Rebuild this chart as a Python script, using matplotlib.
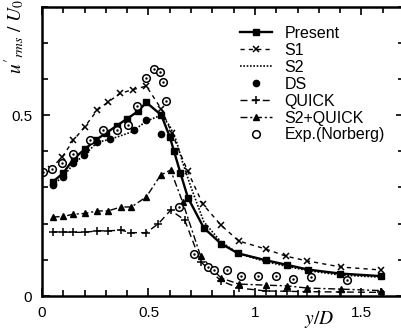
import matplotlib
matplotlib.use("Agg")
import matplotlib.pyplot as plt
from matplotlib.ticker import MultipleLocator, FuncFormatter

plt.rcParams["font.family"] = ["Liberation Sans", "DejaVu Sans"]
plt.rcParams["mathtext.fontset"] = "stix"

# Present (squares, solid)
x_present = [0.05, 0.10, 0.15, 0.20, 0.25, 0.30, 0.35, 0.40, 0.45, 0.49, 0.56, 0.60, 0.62,
             0.65, 0.685, 0.76, 0.84, 0.92, 1.05, 1.15, 1.25, 1.40, 1.59]
y_present = [0.315, 0.34, 0.38, 0.405, 0.43, 0.45, 0.47, 0.49, 0.51, 0.535, 0.50, 0.44, 0.40,
             0.34, 0.272, 0.188, 0.145, 0.118, 0.099, 0.086, 0.073, 0.062, 0.055]

# S1 (x, short dashes)
x_s1 = [0.04, 0.095, 0.147, 0.20, 0.26, 0.31, 0.368, 0.425, 0.49, 0.56, 0.61, 0.684,
        0.755, 0.84, 0.924, 1.05, 1.146, 1.245, 1.405, 1.59]
y_s1 = [0.352, 0.384, 0.43, 0.467, 0.514, 0.536, 0.56, 0.57, 0.58, 0.517, 0.45, 0.345,
        0.254, 0.196, 0.152, 0.13, 0.11, 0.097, 0.08, 0.072]

# S2 (dotted)
x_s2 = [0.05, 0.10, 0.15, 0.20, 0.26, 0.32, 0.42, 0.49, 0.56, 0.60, 0.63, 0.66,
        0.70, 0.76, 0.84, 0.92, 1.05, 1.15, 1.25, 1.40, 1.59]
y_s2 = [0.307, 0.33, 0.367, 0.39, 0.425, 0.433, 0.453, 0.483, 0.50, 0.47, 0.43, 0.37,
        0.30, 0.205, 0.15, 0.118, 0.095, 0.082, 0.07, 0.058, 0.052]

# DS (filled circles)
x_ds = [0.05, 0.10, 0.147, 0.195, 0.26, 0.32, 0.43, 0.49, 0.56]
y_ds = [0.307, 0.33, 0.367, 0.39, 0.425, 0.433, 0.458, 0.485, 0.447]

# QUICK (+, dashed)
x_quick = [0.05, 0.10, 0.147, 0.20, 0.26, 0.31, 0.37, 0.42, 0.49, 0.547, 0.604, 0.67,
           0.745, 0.84, 0.924, 1.05, 1.15, 1.245, 1.405, 1.59]
y_quick = [0.177, 0.177, 0.176, 0.176, 0.18, 0.18, 0.182, 0.175, 0.175, 0.20, 0.237, 0.21,
           0.095, 0.042, 0.022, 0.014, 0.013, 0.012, 0.011, 0.010]

# S2+QUICK (triangles, dash-dot)
x_s2q = [0.05, 0.10, 0.147, 0.20, 0.26, 0.31, 0.37, 0.42, 0.49, 0.557, 0.604, 0.66,
         0.745, 0.84, 0.924, 1.05, 1.15, 1.245, 1.405, 1.59]
y_s2q = [0.218, 0.22, 0.226, 0.228, 0.235, 0.235, 0.246, 0.246, 0.274, 0.334, 0.348, 0.26,
         0.11, 0.05, 0.033, 0.03, 0.028, 0.022, 0.019, 0.015]

# Exp. (Norberg)
x_exp = [0.005, 0.047, 0.094, 0.147, 0.226, 0.288, 0.35, 0.405, 0.448, 0.49, 0.524, 0.552,
         0.566, 0.58, 0.642, 0.712, 0.78, 0.807, 0.868, 0.934, 1.015, 1.10, 1.18, 1.264, 1.43]
y_exp = [0.343, 0.35, 0.367, 0.392, 0.43, 0.458, 0.46, 0.472, 0.525, 0.602, 0.627, 0.62,
         0.59, 0.54, 0.246, 0.116, 0.08, 0.072, 0.072, 0.055, 0.055, 0.055, 0.047, 0.052, 0.044]

fig = plt.figure(figsize=(4.02, 3.34), dpi=100)
ax = fig.add_axes([42 / 402, 38 / 334, 362 / 402, 289.5 / 334])

ax.plot(x_present, y_present, "-", color="k", lw=1.7, marker="s", ms=4.5, label="Present")
ax.plot(x_s1, y_s1, color="k", lw=1, ls=(0, (3, 3)), marker="x", ms=5, mew=1.1, label="S1")
ax.plot(x_s2, y_s2, color="k", lw=1.2, ls=(0, (1, 1)), label="S2")
ax.plot(x_ds, y_ds, "o", color="k", ms=4.5, label="DS")
ax.plot(x_quick, y_quick, color="k", lw=1, ls=(0, (5, 3)), marker="+", ms=6, mew=1.1, label="QUICK")
ax.plot(x_s2q, y_s2q, color="k", lw=1, ls=(0, (5, 2, 1.5, 2)), marker="^", ms=5, label="S2+QUICK")
ax.plot(x_exp, y_exp, "o", mfc="white", mec="k", mew=1.1, ms=5.5, label="Exp.(Norberg)")
ax.plot(x_exp, y_exp, ".", color="k", ms=1.5)

ax.set_xlim(0, 1.70)
ax.set_ylim(0, 0.8)
ax.xaxis.set_major_locator(MultipleLocator(0.5))
ax.xaxis.set_minor_locator(MultipleLocator(0.1))
ax.yaxis.set_major_locator(MultipleLocator(0.5))
ax.yaxis.set_minor_locator(MultipleLocator(0.1))
ax.xaxis.set_major_formatter(FuncFormatter(lambda v, p: f"{v:g}"))
ax.yaxis.set_major_formatter(FuncFormatter(lambda v, p: f"{v:g}"))
ax.tick_params(which="both", direction="in", top=True, right=True, width=1.2, labelsize=11)
ax.tick_params(which="major", length=6, pad=7)
ax.tick_params(which="minor", length=4)
for s in ["left", "bottom", "top"]:
    ax.spines[s].set_linewidth(1.8)
ax.spines["right"].set_visible(False)

ax.text(0.765, -0.08, "$y/D$", transform=ax.transAxes, fontsize=14, ha="center", va="center")
ax.text(-0.075, 0.895, r"$u'_{rms}\ /\ U_0$", transform=ax.transAxes, fontsize=14,
        rotation=90, ha="center", va="center")

ax.legend(loc="upper left", bbox_to_anchor=(240 / 402, 1 - 26 / 334), bbox_transform=fig.transFigure,
          frameon=False, fontsize=11.5, handlelength=2.0, handletextpad=0.8, labelspacing=0.12,
          borderaxespad=0, borderpad=0)

fig.savefig("out.png", dpi=100)
